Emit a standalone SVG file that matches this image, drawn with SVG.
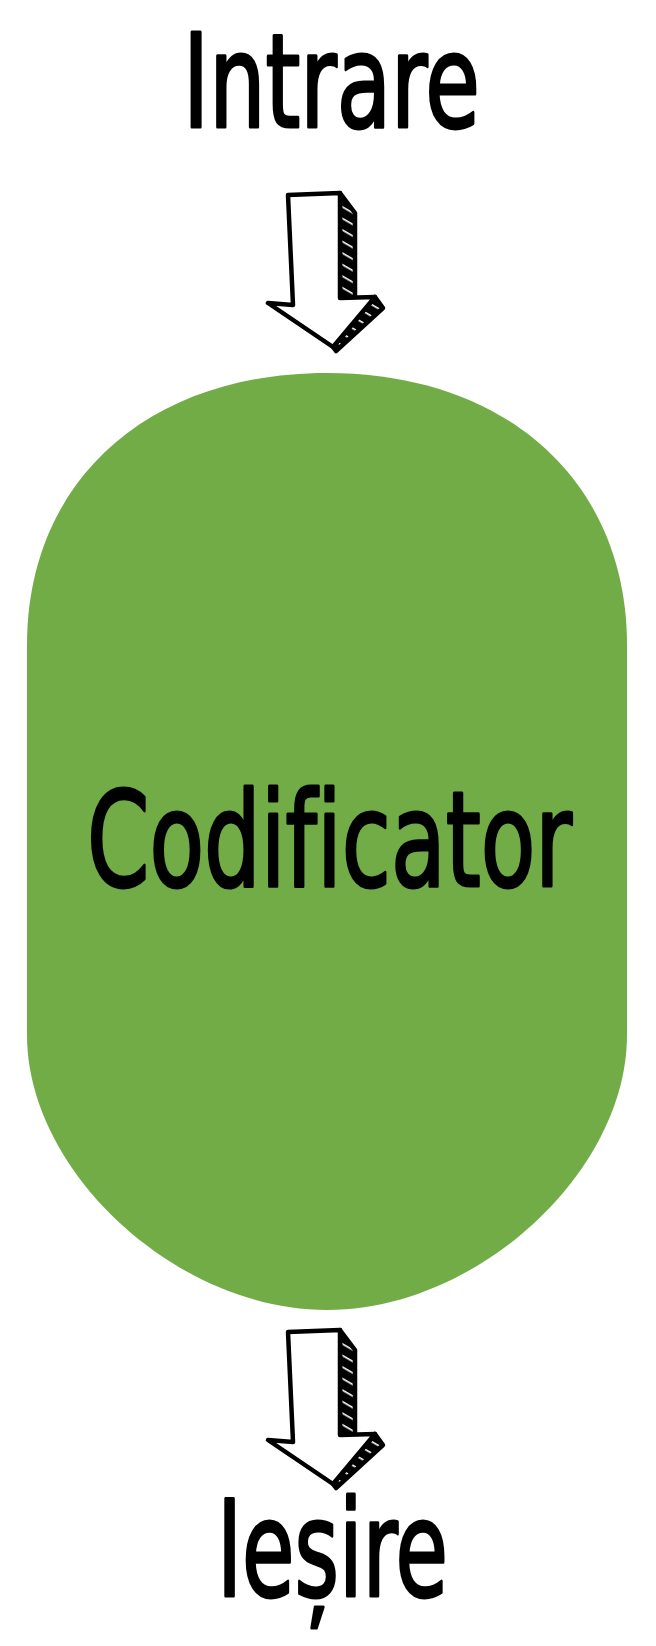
<svg xmlns="http://www.w3.org/2000/svg" width="656" height="1646" viewBox="0 0 656 1646">
  <style>
    .lbl { font-family: "DejaVu Sans Condensed", "DejaVu Sans", sans-serif; font-variant-ligatures: none; fill: #000; stroke: #000; stroke-width: 3; stroke-linejoin: round; }
    .outline { fill: #fff; stroke: #000; stroke-width: 4.5; stroke-linejoin: round; stroke-linecap: round; }
    .hatch { fill: url(#hatchPat); stroke: #000; stroke-width: 4.5; stroke-linejoin: round; }
  </style>
  <defs>
    <pattern id="hatchPat" patternUnits="userSpaceOnUse" width="10" height="10" patternTransform="rotate(30)">
      <rect width="10" height="10" fill="#000"/>
      <rect x="0" y="4" width="10" height="1.6" fill="#fff"/>
    </pattern>
    <g id="arrow">
      <path class="hatch" d="M52,0 L67,20 L67,104 L52,105 Z"/>
      <path class="hatch" d="M87,104 L95,115 L48,158 L45,154 Z"/>
      <path class="outline" d="M0,2 L52,0 L52,105 L87,104 L45,154 L-20,110 L5,112 Z"/>
    </g>
  </defs>
  <rect width="656" height="1646" fill="#fff"/>
  <g id="input">
    <text class="lbl" x="183" y="127" font-size="130" textLength="297" lengthAdjust="spacingAndGlyphs">Intrare</text>
  </g>
  <g id="encoder">
    <path d="M27,645 C27,482 147,373 327,373 C507,373 627,482 627,645 L627,1035 C627,1172 477,1310 327,1310 C177,1310 27,1172 27,1035 Z" fill="#72AC46"/>
    <text class="lbl" x="87" y="886" font-size="132" textLength="485" lengthAdjust="spacingAndGlyphs">Codificator</text>
  </g>
  <g id="output">
    <text class="lbl" x="217" y="1596" font-size="133" textLength="231" lengthAdjust="spacingAndGlyphs">Ieșire</text>
  </g>
  <g id="connectors">
    <use href="#arrow" transform="translate(288,193)"/>
    <use href="#arrow" transform="translate(288,1330)"/>
  </g>
</svg>
